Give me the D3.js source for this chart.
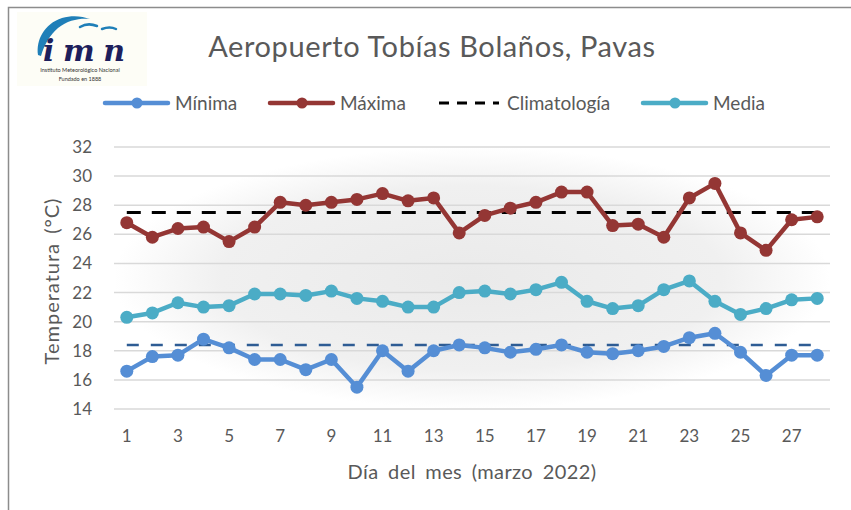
<!DOCTYPE html>
<html>
<head>
<meta charset="utf-8">
<script src="https://cdn.jsdelivr.net/npm/d3@7"></script>
<style>
  body { margin: 0; background: #fff; }
  text { font-family: Lato, "Open Sans", sans-serif; fill: #595959; }
</style>
</head>
<body>
<svg width="851" height="510"></svg>
<script>
// datos
var dias = d3.range(1, 29);
var minima = [16.6, 17.6, 17.7, 18.8, 18.2, 17.4, 17.4, 16.7, 17.4, 15.5, 18.0, 16.6, 18.0, 18.4,
              18.2, 17.9, 18.1, 18.4, 17.9, 17.8, 18.0, 18.3, 18.9, 19.2, 17.9, 16.3, 17.7, 17.7];
var maxima = [26.8, 25.8, 26.4, 26.5, 25.5, 26.5, 28.2, 28.0, 28.2, 28.4, 28.8, 28.3, 28.5, 26.1,
              27.3, 27.8, 28.2, 28.9, 28.9, 26.6, 26.7, 25.8, 28.5, 29.5, 26.1, 24.9, 27.0, 27.2];
var media = [20.3, 20.6, 21.3, 21.0, 21.1, 21.9, 21.9, 21.8, 22.1, 21.6, 21.4, 21.0, 21.0, 22.0,
             22.1, 21.9, 22.2, 22.7, 21.4, 20.9, 21.1, 22.2, 22.8, 21.4, 20.5, 20.9, 21.5, 21.6];
var climaMax = 27.5;
var climaMin = 18.4;
var yTicks = [14, 16, 18, 20, 22, 24, 26, 28, 30, 32];
var xTicks = [1, 3, 5, 7, 9, 11, 13, 15, 17, 19, 21, 23, 25, 27];

var svg = d3.select('svg');

// marco
svg.append('path')
    .attr('d', 'M8.5,510 L8.5,7.5 L851,7.5')
    .attr('fill', 'none')
    .attr('stroke', '#8c8c8c')
    .attr('stroke-width', 1.5);

// logo imn
var logo = svg.append('g');
logo.append('rect')
    .attr('x', 17).attr('y', 12).attr('width', 130).attr('height', 74)
    .attr('fill', '#fdfdf6');
logo.append('path')
    .attr('d', 'M38,55 C36,40 44,24 62,18 C72,15 82,16 90,19 C80,18 68,20 58,28 C50,35 44,45 41,56 Z')
    .attr('fill', '#1f7fb8');
logo.append('path')
    .attr('d', 'M80,27 C85,24 92,24 97,26 M102,29 C107,27 112,27 116,29')
    .attr('fill', 'none')
    .attr('stroke', '#1f7fb8')
    .attr('stroke-width', 2.5)
    .attr('stroke-linecap', 'round');
logo.append('text')
    .attr('x', 43).attr('y', 61)
    .style('font-family', '"DejaVu Serif", serif')
    .style('font-style', 'italic')
    .style('font-weight', 'bold')
    .style('fill', '#1d1f5c')
    .attr('font-size', 30)
    .attr('textLength', 82)
    .text('imn');
logo.append('text')
    .attr('x', 80).attr('y', 72)
    .attr('text-anchor', 'middle')
    .attr('font-size', 5.5)
    .style('fill', '#333')
    .text('Instituto Meteorológico Nacional');
logo.append('text')
    .attr('x', 80).attr('y', 81)
    .attr('text-anchor', 'middle')
    .attr('font-size', 5.5)
    .style('fill', '#333')
    .text('Fundado en 1888');

// titulo
svg.append('text')
    .attr('x', 432).attr('y', 57)
    .attr('text-anchor', 'middle')
    .attr('font-size', 29)
    .attr('letter-spacing', 0.6)
    .text('Aeropuerto Tobías Bolaños, Pavas');

// escalas
var x = d3.scaleBand().domain(dias).range([114, 830]);
var y = d3.scaleLinear().domain([14, 32]).range([409, 147]);
var cx = function(d) { return x(d) + x.bandwidth() / 2; };

// fondo degradado
var grad = svg.append('defs').append('radialGradient').attr('id', 'fondo');
grad.append('stop').attr('offset', '0%').attr('stop-color', '#eaeaea');
grad.append('stop').attr('offset', '70%').attr('stop-color', '#f0f0f0');
grad.append('stop').attr('offset', '100%').attr('stop-color', '#ffffff');
svg.append('rect')
    .attr('x', 114).attr('y', 147).attr('width', 716).attr('height', 262)
    .attr('fill', 'url(#fondo)');

// rejilla
svg.append('g')
    .selectAll('line')
    .data(yTicks)
    .enter()
    .append('line')
    .attr('x1', 114).attr('x2', 830)
    .attr('y1', function(d) { return y(d); })
    .attr('y2', function(d) { return y(d); })
    .attr('stroke', '#d9d9d9')
    .attr('stroke-width', 1.5);

// ejes
var ejeY = svg.append('g')
    .attr('transform', 'translate(114,0)')
    .call(d3.axisLeft(y).tickValues(yTicks).tickSize(0).tickPadding(22));
ejeY.select('.domain').remove();
ejeY.selectAll('text').attr('font-size', 17).style('font-family', 'Lato, sans-serif').attr('fill', '#595959');

var ejeX = svg.append('g')
    .attr('transform', 'translate(0,409)')
    .call(d3.axisBottom(x).tickValues(xTicks).tickSize(0).tickPadding(21));
ejeX.select('.domain').remove();
ejeX.selectAll('text').attr('font-size', 17).style('font-family', 'Lato, sans-serif').attr('fill', '#595959');

svg.append('text')
    .attr('transform', 'translate(59,281) rotate(-90)')
    .attr('text-anchor', 'middle')
    .attr('font-size', 20)
    .attr('letter-spacing', 1)
    .attr('word-spacing', 3)
    .text('Temperatura (°C)');

svg.append('text')
    .attr('x', 472).attr('y', 479)
    .attr('text-anchor', 'middle')
    .attr('font-size', 20)
    .attr('letter-spacing', 0.4)
    .attr('word-spacing', 4)
    .text('Día del mes (marzo 2022)');

// climatologia
var lineaClima = function(v, color, ancho, dash) {
    svg.append('line')
        .attr('x1', cx(1)).attr('x2', cx(28))
        .attr('y1', y(v)).attr('y2', y(v))
        .attr('stroke', color)
        .attr('stroke-width', ancho)
        .attr('stroke-dasharray', dash);
};
lineaClima(climaMax, '#000000', 3, '14,11');
lineaClima(climaMin, '#2e5c94', 2.5, '12,12');

// series
var series = [
    { nombre: 'Mínima', valores: minima, color: '#558ed5' },
    { nombre: 'Máxima', valores: maxima, color: '#943634' },
    { nombre: 'Media', valores: media, color: '#4bacc6' }
];

var linea = d3.line()
    .x(function(d, i) { return cx(dias[i]); })
    .y(function(d) { return y(d); });

series.forEach(function(s) {
    var g = svg.append('g');
    g.append('path')
        .attr('d', linea(s.valores))
        .attr('fill', 'none')
        .attr('stroke', s.color)
        .attr('stroke-width', 4.5)
        .attr('stroke-linejoin', 'round');
    g.selectAll('circle')
        .data(s.valores)
        .enter()
        .append('circle')
        .attr('cx', function(d, i) { return cx(dias[i]); })
        .attr('cy', function(d) { return y(d); })
        .attr('r', 6.5)
        .attr('fill', s.color);
});

// leyenda
var leyenda = [
    { nombre: 'Mínima', color: '#558ed5', x: 105, dash: null },
    { nombre: 'Máxima', color: '#943634', x: 270, dash: null },
    { nombre: 'Climatología', color: '#000000', x: 439, dash: '10,8' },
    { nombre: 'Media', color: '#4bacc6', x: 643, dash: null }
];
var ley = svg.append('g').selectAll('g')
    .data(leyenda)
    .enter()
    .append('g')
    .attr('transform', function(d) { return 'translate(' + d.x + ',103)'; });
ley.append('line')
    .attr('x1', 0)
    .attr('x2', function(d) { return d.dash ? 60 : 63; })
    .attr('stroke', function(d) { return d.color; })
    .attr('stroke-width', function(d) { return d.dash ? 3 : 4.5; })
    .attr('stroke-linecap', function(d) { return d.dash ? 'butt' : 'round'; })
    .attr('stroke-dasharray', function(d) { return d.dash; });
ley.filter(function(d) { return !d.dash; })
    .append('circle')
    .attr('cx', 32).attr('r', 5.5)
    .attr('fill', function(d) { return d.color; });
ley.append('text')
    .attr('x', function(d) { return d.dash ? 68 : 70; })
    .attr('dy', '0.35em')
    .attr('font-size', 19)
    .text(function(d) { return d.nombre; });
</script>
</body>
</html>
